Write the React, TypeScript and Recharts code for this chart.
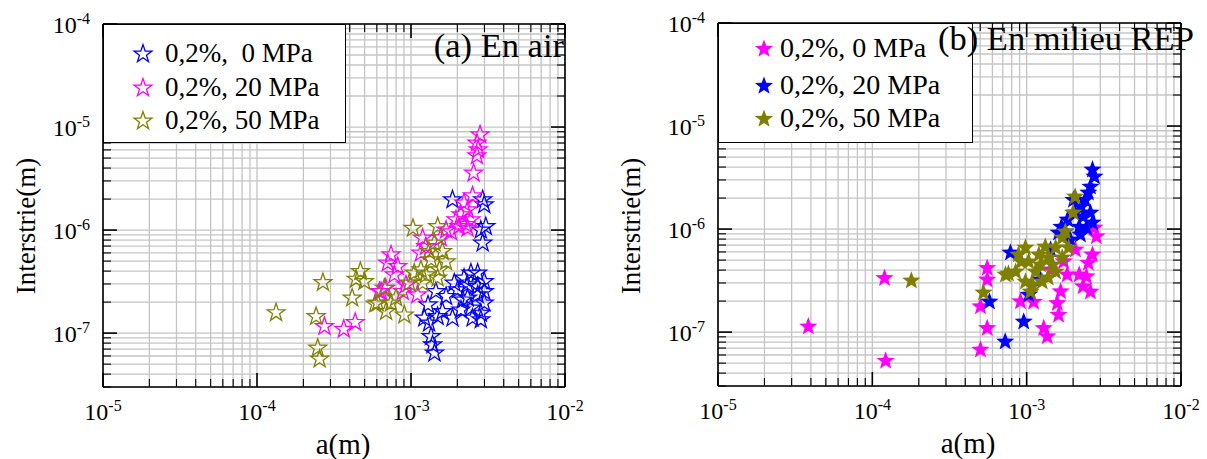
import React from 'react';
import { ScatterChart, Scatter, XAxis, YAxis, CartesianGrid, ReferenceLine } from 'recharts';

const BLUE = '#0000ff';
const PINK = '#ff00ff';
const OLIVE = '#808000';
const FONT = "'Liberation Serif', 'Times New Roman', serif";

// axis ticks (log scale): majors get a 10^n label, the rest are minor ticks
const xMajor = [1e-5, 1e-4, 1e-3, 1e-2];
const xMajorExp = ['-5', '-4', '-3', '-2'];
const yMajor = [1e-7, 1e-6, 1e-5, 1e-4];
const yMajorExp = ['-7', '-6', '-5', '-4'];
const mults = [1, 2, 3, 4, 5, 6, 7, 8, 9];
const xDomain = [1e-5, 1e-2];
const yDomain = [3e-8, 1e-4];

// (a) En air — hollow stars
const airBlue = [
  { a: 1.86e-3, v: 1.97e-6 }, { a: 2.92e-3, v: 1.97e-6 }, { a: 2.99e-3, v: 1.76e-6 },
  { a: 3.06e-3, v: 1.08e-6 }, { a: 2.84e-3, v: 1.0e-6 }, { a: 2.92e-3, v: 7.48e-7 },
  { a: 2.45e-3, v: 3.83e-7 }, { a: 2.71e-3, v: 3.83e-7 }, { a: 2.21e-3, v: 3.42e-7 },
  { a: 1.91e-3, v: 3.06e-7 }, { a: 2.33e-3, v: 2.94e-7 }, { a: 2.71e-3, v: 2.83e-7 },
  { a: 2.99e-3, v: 3.17e-7 }, { a: 1.45e-3, v: 2.53e-7 }, { a: 2.01e-3, v: 2.63e-7 },
  { a: 1.22e-3, v: 1.4e-7 }, { a: 1.49e-3, v: 1.45e-7 }, { a: 1.86e-3, v: 1.4e-7 },
  { a: 1.69e-3, v: 2.27e-7 }, { a: 2.33e-3, v: 2.19e-7 }, { a: 2.71e-3, v: 2.35e-7 },
  { a: 2.99e-3, v: 2.53e-7 }, { a: 1.35e-3, v: 9.27e-8 }, { a: 1.38e-3, v: 7.7e-8 },
  { a: 1.42e-3, v: 6.4e-8 }, { a: 1.31e-3, v: 1.25e-7 }, { a: 2.11e-3, v: 1.68e-7 },
  { a: 2.45e-3, v: 1.75e-7 }, { a: 2.84e-3, v: 1.56e-7 }, { a: 2.99e-3, v: 1.96e-7 },
  { a: 2.51e-3, v: 1.4e-7 }, { a: 1.6e-3, v: 1.62e-7 }, { a: 2.84e-3, v: 1.35e-7 },
  { a: 1.29e-3, v: 1.88e-7 }, { a: 2.17e-3, v: 2.1e-7 },
];
const airPink = [
  { a: 2.81e-3, v: 8.42e-6 }, { a: 2.68e-3, v: 7.0e-6 }, { a: 2.73e-3, v: 6.03e-6 },
  { a: 2.68e-3, v: 5.26e-6 }, { a: 2.55e-3, v: 3.57e-6 }, { a: 2.51e-3, v: 2.15e-6 },
  { a: 2.21e-3, v: 1.83e-6 }, { a: 2.33e-3, v: 1.57e-6 }, { a: 2.11e-3, v: 1.41e-6 },
  { a: 2.45e-3, v: 1.26e-6 }, { a: 1.96e-3, v: 1.26e-6 }, { a: 2.27e-3, v: 1.13e-6 },
  { a: 2.05e-3, v: 1.08e-6 }, { a: 7.42e-4, v: 5.75e-7 }, { a: 7.06e-4, v: 4.78e-7 },
  { a: 8.2e-4, v: 4.43e-7 }, { a: 7.8e-4, v: 3.68e-7 }, { a: 1.16e-3, v: 5.98e-7 },
  { a: 1.25e-3, v: 6.93e-7 }, { a: 1.19e-3, v: 8.36e-7 }, { a: 2.33e-3, v: 1.04e-6 },
  { a: 1.69e-3, v: 1.0e-6 }, { a: 6.39e-4, v: 2.53e-7 }, { a: 8.84e-4, v: 2.53e-7 },
  { a: 1.1e-3, v: 2.35e-7 }, { a: 2.74e-4, v: 1.16e-7 }, { a: 3.66e-4, v: 1.09e-7 },
  { a: 4.34e-4, v: 1.27e-7 }, { a: 6.24e-4, v: 2.53e-7 }, { a: 6.84e-4, v: 2.73e-7 },
  { a: 1.82e-3, v: 9.62e-7 }, { a: 1.56e-3, v: 8.42e-7 }, { a: 9.28e-4, v: 2.94e-7 },
];
const airOlive = [
  { a: 1.33e-4, v: 1.58e-7 }, { a: 2.42e-4, v: 1.45e-7 }, { a: 2.48e-4, v: 7.15e-8 },
  { a: 2.55e-4, v: 5.6e-8 }, { a: 2.68e-4, v: 3.1e-7 }, { a: 4.15e-4, v: 2.19e-7 },
  { a: 4.4e-4, v: 3.34e-7 }, { a: 4.69e-4, v: 3.96e-7 }, { a: 4.98e-4, v: 3.17e-7 },
  { a: 5.85e-4, v: 1.92e-7 }, { a: 6.08e-4, v: 1.96e-7 }, { a: 6.89e-4, v: 1.62e-7 },
  { a: 7.42e-4, v: 1.96e-7 }, { a: 9.05e-4, v: 1.5e-7 }, { a: 6.71e-4, v: 2.73e-7 },
  { a: 9.75e-4, v: 3.06e-7 }, { a: 1.05e-3, v: 3.83e-7 }, { a: 1.16e-3, v: 4.12e-7 },
  { a: 1.19e-3, v: 3.06e-7 }, { a: 1.25e-3, v: 3.68e-7 }, { a: 1.03e-3, v: 1.04e-6 },
  { a: 1.49e-3, v: 1.08e-6 }, { a: 1.42e-3, v: 7.48e-7 }, { a: 1.31e-3, v: 6.2e-7 },
  { a: 1.6e-3, v: 6.2e-7 }, { a: 1.35e-3, v: 5.15e-7 }, { a: 1.53e-3, v: 4.12e-7 },
  { a: 1.49e-3, v: 3.42e-7 }, { a: 8.0e-4, v: 2.2e-7 }, { a: 1.69e-3, v: 4.92e-7 },
];

// (b) En milieu REP — filled stars
const repPink = [
  { a: 3.85e-5, v: 1.13e-7 }, { a: 1.2e-4, v: 3.34e-7 }, { a: 1.22e-4, v: 5.26e-8 },
  { a: 5.02e-4, v: 1.77e-7 }, { a: 5.55e-4, v: 4.18e-7 }, { a: 5.55e-4, v: 3.22e-7 },
  { a: 5.55e-4, v: 1.09e-7 }, { a: 5.02e-4, v: 6.73e-8 }, { a: 9.12e-4, v: 1.98e-7 },
  { a: 1.11e-3, v: 1.96e-7 }, { a: 1.29e-3, v: 1.09e-7 }, { a: 1.36e-3, v: 9.06e-8 },
  { a: 1.58e-3, v: 1.91e-7 }, { a: 1.61e-3, v: 1.47e-7 }, { a: 1.66e-3, v: 2.48e-7 },
  { a: 1.83e-3, v: 3.6e-7 }, { a: 1.74e-3, v: 4.84e-7 }, { a: 2.32e-3, v: 2.77e-7 },
  { a: 2.44e-3, v: 3.47e-7 }, { a: 2.51e-3, v: 4.68e-7 }, { a: 2.67e-3, v: 5.63e-7 },
  { a: 2.83e-3, v: 8.47e-7 }, { a: 2.19e-3, v: 3.6e-7 }, { a: 2.07e-3, v: 6.3e-7 },
  { a: 2.59e-3, v: 2.46e-7 }, { a: 2.75e-3, v: 1.03e-6 }, { a: 1.43e-3, v: 4.03e-7 },
];
const repBlue = [
  { a: 2.67e-3, v: 3.77e-6 }, { a: 2.75e-3, v: 3.22e-6 }, { a: 2.59e-3, v: 2.57e-6 },
  { a: 2.51e-3, v: 2.25e-6 }, { a: 2.39e-3, v: 1.92e-6 }, { a: 2.25e-3, v: 1.65e-6 },
  { a: 2.01e-3, v: 1.92e-6 }, { a: 2.06e-3, v: 1.44e-6 }, { a: 1.84e-3, v: 1.23e-6 },
  { a: 2.32e-3, v: 1.32e-6 }, { a: 2.59e-3, v: 1.44e-6 }, { a: 2.67e-3, v: 1.15e-6 },
  { a: 1.68e-3, v: 1.05e-6 }, { a: 2.19e-3, v: 1.05e-6 }, { a: 2.44e-3, v: 1.03e-6 },
  { a: 1.78e-3, v: 9.42e-7 }, { a: 1.61e-3, v: 9.2e-7 }, { a: 7.85e-4, v: 5.89e-7 },
  { a: 5.74e-4, v: 1.97e-7 }, { a: 1.03e-3, v: 2.3e-7 }, { a: 9.57e-4, v: 1.26e-7 },
  { a: 7.26e-4, v: 8.05e-8 }, { a: 1.92e-3, v: 7.87e-7 }, { a: 2.23e-3, v: 8.8e-7 },
  { a: 1.43e-3, v: 6.3e-7 }, { a: 1.23e-3, v: 3.22e-7 },
];
const repOlive = [
  { a: 1.79e-4, v: 3.15e-7 }, { a: 5.25e-4, v: 2.41e-7 }, { a: 7.29e-4, v: 3.6e-7 },
  { a: 7.62e-4, v: 3.68e-7 }, { a: 8.49e-4, v: 3.85e-7 }, { a: 8.85e-4, v: 5.63e-7 },
  { a: 9.82e-4, v: 6.58e-7 }, { a: 1.03e-3, v: 4.82e-7 }, { a: 9.82e-4, v: 3.08e-7 },
  { a: 1.14e-3, v: 3.85e-7 }, { a: 1.09e-3, v: 2.88e-7 }, { a: 1.2e-3, v: 5.63e-7 },
  { a: 1.32e-3, v: 6.73e-7 }, { a: 1.38e-3, v: 5.26e-7 }, { a: 1.26e-3, v: 3.08e-7 },
  { a: 1.38e-3, v: 3.37e-7 }, { a: 1.54e-3, v: 6.58e-7 }, { a: 1.54e-3, v: 3.85e-7 },
  { a: 1.7e-3, v: 8.24e-7 }, { a: 1.78e-3, v: 9.42e-7 }, { a: 1.7e-3, v: 5.26e-7 },
  { a: 2.06e-3, v: 2.06e-6 }, { a: 2.0e-3, v: 1.44e-6 }, { a: 1.47e-3, v: 4.5e-7 },
  { a: 1.06e-3, v: 2.46e-7 }, { a: 1.23e-3, v: 4.5e-7 }, { a: 1.87e-3, v: 6.58e-7 },
  { a: 9.23e-4, v: 4.82e-7 },
];

const logTicks = (lo: number, hi: number) => {
  const out: number[] = [];
  for (let e = -9; e <= -1; e++) {
    mults.forEach((m) => {
      const t = +(m * Math.pow(10, e)).toPrecision(6);
      if (t >= lo * 0.999999 && t <= hi * 1.000001) out.push(t);
    });
  }
  return out;
};
const xTicks = logTicks(xDomain[0], xDomain[1]);
const yTicks = logTicks(yDomain[0], yDomain[1]);
const majorIndex = (list: number[], v: number) => list.findIndex((m) => Math.abs(m - v) / m < 1e-6);

const starPath = (cx: number, cy: number, R: number, r: number) => {
  let d = '';
  for (let i = 0; i < 10; i++) {
    const rad = i % 2 === 0 ? R : r;
    const ang = -Math.PI / 2 + (i * Math.PI) / 5;
    d += (i ? 'L' : 'M') + (cx + rad * Math.cos(ang)).toFixed(2) + ',' + (cy + rad * Math.sin(ang)).toFixed(2);
  }
  return d + 'Z';
};

const hollowStar = (color: string) => (p: any) =>
  <path d={starPath(p.cx, p.cy, 9.4, 3.7)} fill="none" stroke={color} strokeWidth={1.3} />;
const filledStar = (color: string) => (p: any) =>
  <path d={starPath(p.cx, p.cy, 9.6, 4.0)} fill={color} stroke="none" />;

type Box = { top: number; bottom: number; left: number; right: number };

const makeXTick = (b: Box) => (props: any) => {
  const { x, payload } = props;
  const k = majorIndex(xMajor, payload.value);
  const len = k >= 0 ? 14 : 8;
  const w = k >= 0 ? 1.6 : 1.1;
  return (
    <g>
      <line x1={x} x2={x} y1={b.bottom} y2={b.bottom - len} stroke="#000" strokeWidth={w} />
      <line x1={x} x2={x} y1={b.top} y2={b.top + len} stroke="#000" strokeWidth={w} />
      {k >= 0 && (
        <text x={x} y={b.bottom + 33} textAnchor="middle" fontFamily={FONT} fontSize={24} fill="#000">
          <tspan>10</tspan>
          <tspan dy={-9} fontSize={16}>{xMajorExp[k]}</tspan>
        </text>
      )}
    </g>
  );
};

const makeYTick = (b: Box) => (props: any) => {
  const { y, payload } = props;
  const k = majorIndex(yMajor, payload.value);
  const len = k >= 0 ? 14 : 8;
  const w = k >= 0 ? 1.6 : 1.1;
  return (
    <g>
      <line x1={b.left} x2={b.left + len} y1={y} y2={y} stroke="#000" strokeWidth={w} />
      <line x1={b.right} x2={b.right - len} y1={y} y2={y} stroke="#000" strokeWidth={w} />
      {k >= 0 && (
        <text x={b.left - 13} y={y + 9} textAnchor="end" fontFamily={FONT} fontSize={24} fill="#000">
          <tspan>10</tspan>
          <tspan dy={-9} fontSize={16}>{yMajorExp[k]}</tspan>
        </text>
      )}
    </g>
  );
};

type Series = { name: string; data: { a: number; v: number }[]; color: string };

type PanelProps = {
  width: number;
  margin: { top: number; right: number; left: number; bottom: number };
  yAxisWidth: number;
  xAxisHeight: number;
  series: Series[];
  filled: boolean;
  title: string;
  titleStyle: React.CSSProperties;
  legendBox: { left: number; top: number; width: number; height: number };
  legendRows: number[];
  legendStarX: number;
  legendTextX: number;
  legendFont: number;
  yTitle: { x: number; y: number };
  xTitle: { x: number; y: number };
};

const Panel = (p: PanelProps) => {
  const height = 459;
  const box: Box = {
    top: p.margin.top,
    bottom: height - p.margin.bottom - p.xAxisHeight,
    left: p.margin.left + p.yAxisWidth,
    right: p.width - p.margin.right,
  };
  const txt: React.CSSProperties = { position: 'absolute', fontFamily: FONT, color: '#000', whiteSpace: 'pre', lineHeight: 1 };
  return (
    <div style={{ position: 'relative', width: p.width, height }}>
      <ScatterChart width={p.width} height={height} margin={p.margin}>
        <CartesianGrid stroke="#c4c4c4" strokeWidth={1.3} />
        <XAxis
          type="number" dataKey="a" scale="log" domain={xDomain} ticks={xTicks} allowDataOverflow
          interval={0} height={p.xAxisHeight} tickLine={false} tickSize={0}
          axisLine={{ stroke: '#000', strokeWidth: 1.6 }} tick={makeXTick(box)}
        />
        <YAxis
          type="number" dataKey="v" scale="log" domain={yDomain} ticks={yTicks} allowDataOverflow
          interval={0} width={p.yAxisWidth} tickLine={false} tickSize={0}
          axisLine={{ stroke: '#000', strokeWidth: 1.6 }} tick={makeYTick(box)}
        />
        <ReferenceLine y={yDomain[1]} stroke="#000" strokeWidth={1.6} />
        <ReferenceLine x={xDomain[1]} stroke="#000" strokeWidth={1.6} />
        {p.series.map((s) => (
          <Scatter
            key={s.name} name={s.name} data={s.data} isAnimationActive={false}
            shape={p.filled ? filledStar(s.color) : hollowStar(s.color)}
          />
        ))}
      </ScatterChart>

      <div
        style={{
          position: 'absolute', left: p.legendBox.left, top: p.legendBox.top, width: p.legendBox.width,
          height: p.legendBox.height, background: '#fff', border: '1.5px solid #000', boxSizing: 'border-box',
        }}
      />
      {p.series.map((s, i) => (
        <React.Fragment key={s.name}>
          <svg style={{ position: 'absolute', left: p.legendStarX - 11, top: p.legendRows[i] - 11 }} width={22} height={22}>
            {p.filled ? (
              <path d={starPath(11, 12, 9.6, 4.0)} fill={s.color} />
            ) : (
              <path d={starPath(11, 12, 9.4, 3.7)} fill="none" stroke={s.color} strokeWidth={1.3} />
            )}
          </svg>
          <div style={{ ...txt, fontSize: p.legendFont, left: p.legendTextX, top: p.legendRows[i] - p.legendFont / 2 }}>
            {s.name}
          </div>
        </React.Fragment>
      ))}

      <div style={{ ...txt, fontSize: 34.5, ...p.titleStyle }}>{p.title}</div>

      <div
        style={{
          ...txt, fontSize: 27, left: p.yTitle.x, top: p.yTitle.y,
          transform: 'translate(-50%, -50%) rotate(-90deg)',
        }}
      >
        Interstrie(m)
      </div>
      <div style={{ ...txt, fontSize: 29, left: p.xTitle.x, top: p.xTitle.y, transform: 'translate(-50%, -50%)' }}>
        a(m)
      </div>
    </div>
  );
};

const App = () => (
  <div style={{ position: 'absolute', left: 0, top: 0, width: 1207, height: 459, background: '#fff', display: 'flex' }}>
    <Panel
      width={600}
      margin={{ top: 24, right: 35, left: 0, bottom: 0 }}
      yAxisWidth={103}
      xAxisHeight={72}
      filled={false}
      series={[
        { name: '0,2%,  0 MPa', data: airBlue, color: BLUE },
        { name: '0,2%, 20 MPa', data: airPink, color: PINK },
        { name: '0,2%, 50 MPa', data: airOlive, color: OLIVE },
      ]}
      title="(a) En air"
      titleStyle={{ right: 600 - 564, top: 28 }}
      legendBox={{ left: 102.5, top: 23.5, width: 243, height: 119 }}
      legendRows={[53, 87, 120]}
      legendStarX={143}
      legendTextX={165}
      legendFont={27}
      yTitle={{ x: 26, y: 226 }}
      xTitle={{ x: 343, y: 444 }}
    />
    <Panel
      width={607}
      margin={{ top: 23, right: 26, left: 0, bottom: 0 }}
      yAxisWidth={118}
      xAxisHeight={73}
      filled={true}
      series={[
        { name: '0,2%, 0 MPa', data: repPink, color: PINK },
        { name: '0,2%, 20 MPa', data: repBlue, color: BLUE },
        { name: '0,2%, 50 MPa', data: repOlive, color: OLIVE },
      ]}
      title="(b) En milieu REP"
      titleStyle={{ left: 338, top: 21 }}
      legendBox={{ left: 117.5, top: 22.5, width: 255, height: 120 }}
      legendRows={[48, 85, 118]}
      legendStarX={164}
      legendTextX={180}
      legendFont={28}
      yTitle={{ x: 31, y: 226 }}
      xTitle={{ x: 368, y: 443 }}
    />
  </div>
);

export default App;
